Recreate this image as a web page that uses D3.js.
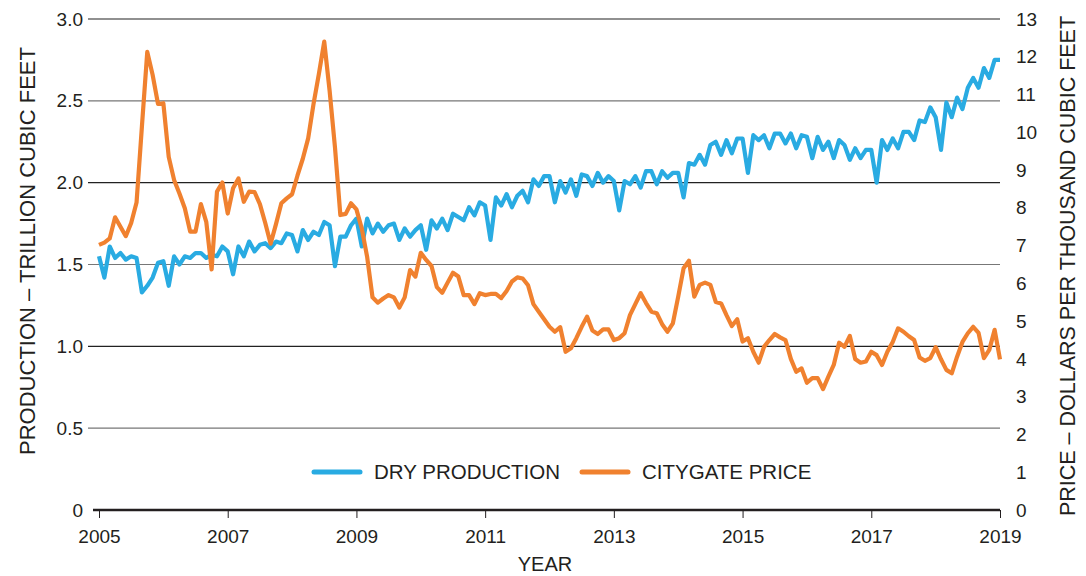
<!DOCTYPE html>
<html>
<head>
<meta charset="utf-8">
<script src="https://cdn.jsdelivr.net/npm/d3@7"></script>
<style>
  body { margin: 0; background: #fff; }
  svg { font-family: "Liberation Sans", Arial, sans-serif; }
</style>
</head>
<body>
<div id="chart"></div>
<script>
const width = 1086;
const height = 576;
const margin = { top: 19, right: 86, bottom: 66, left: 99 };

// Monthly series, Jan 2005 onward
const startYear = 2005;
const yearTicks = [2005, 2007, 2009, 2011, 2013, 2015, 2017, 2019];
const prodTicks = [0, 0.5, 1.0, 1.5, 2.0, 2.5, 3.0];
const priceTicks = [0, 1, 2, 3, 4, 5, 6, 7, 8, 9, 10, 11, 12, 13];

// Dry production, trillion cubic feet
const production = [
  1.55, 1.42, 1.61, 1.54, 1.57, 1.53, 1.55, 1.54, 1.33, 1.37, 1.42, 1.51,
  1.52, 1.37, 1.55, 1.50, 1.55, 1.54, 1.57, 1.57, 1.54, 1.56, 1.55, 1.61,
  1.58, 1.44, 1.61, 1.55, 1.64, 1.58, 1.62, 1.63, 1.60, 1.64, 1.63, 1.69,
  1.68, 1.58, 1.71, 1.65, 1.70, 1.68, 1.76, 1.74, 1.49, 1.67, 1.67, 1.74,
  1.78, 1.61, 1.78, 1.69, 1.75, 1.70, 1.74, 1.75, 1.65, 1.72, 1.67, 1.71,
  1.74, 1.59, 1.77, 1.72, 1.78, 1.71, 1.81, 1.79, 1.77, 1.85, 1.80, 1.88,
  1.86, 1.65, 1.91, 1.86, 1.93, 1.85, 1.92, 1.95, 1.88, 2.02, 1.98, 2.04,
  2.04, 1.88, 2.01, 1.94, 2.02, 1.92, 2.05, 2.04, 1.98, 2.06, 2.00, 2.04,
  2.01, 1.83, 2.01, 1.99, 2.04, 1.97, 2.07, 2.07, 1.99, 2.07, 2.03, 2.06,
  2.06, 1.91, 2.12, 2.11, 2.17, 2.11, 2.23, 2.25, 2.17, 2.26, 2.18, 2.27,
  2.27, 2.06, 2.29, 2.26, 2.29, 2.21, 2.30, 2.30, 2.24, 2.30, 2.21, 2.29,
  2.28, 2.15, 2.28, 2.20, 2.25, 2.15, 2.26, 2.23, 2.14, 2.21, 2.15, 2.20,
  2.20, 2.00, 2.26, 2.20, 2.27, 2.21, 2.31, 2.31, 2.26, 2.38, 2.37, 2.46,
  2.40, 2.20, 2.49, 2.40, 2.52, 2.45, 2.58, 2.64, 2.58, 2.70, 2.64, 2.75,
  2.75
];

// Citygate price, dollars per thousand cubic feet
const price = [
  7.02, 7.08, 7.19, 7.75, 7.50, 7.25, 7.60, 8.14, 10.15, 12.13, 11.52, 10.75,
  10.77, 9.35, 8.74, 8.38, 7.99, 7.37, 7.37, 8.10, 7.63, 6.37, 8.43, 8.67,
  7.85, 8.52, 8.78, 8.16, 8.43, 8.42, 8.10, 7.60, 7.05, 7.57, 8.12, 8.25,
  8.36, 8.85, 9.30, 9.84, 10.75, 11.55, 12.40, 11.10, 9.60, 7.81, 7.84, 8.12,
  7.96, 7.45, 6.70, 5.63, 5.49, 5.60, 5.69, 5.63, 5.36, 5.63, 6.35, 6.18,
  6.81, 6.62, 6.46, 5.90, 5.75, 6.02, 6.28, 6.18, 5.69, 5.69, 5.45, 5.74,
  5.69, 5.72, 5.72, 5.61, 5.80, 6.05, 6.16, 6.13, 5.95, 5.45, 5.25, 5.05,
  4.85, 4.72, 4.84, 4.19, 4.28, 4.55, 4.85, 5.12, 4.75, 4.66, 4.78, 4.78,
  4.50, 4.55, 4.68, 5.16, 5.45, 5.74, 5.48, 5.25, 5.21, 4.92, 4.72, 4.94,
  5.65, 6.40, 6.60, 5.65, 5.96, 6.02, 5.96, 5.51, 5.47, 5.16, 4.87, 5.05,
  4.46, 4.55, 4.19, 3.90, 4.32, 4.50, 4.66, 4.57, 4.50, 4.00, 3.66, 3.75,
  3.37, 3.49, 3.49, 3.20, 3.53, 3.84, 4.43, 4.32, 4.61, 4.00, 3.90, 3.93,
  4.19, 4.10, 3.84, 4.19, 4.45, 4.81, 4.72, 4.60, 4.50, 4.04, 3.95, 4.02,
  4.31, 3.99, 3.71, 3.62, 4.06, 4.45, 4.68, 4.85, 4.69, 4.02, 4.24, 4.77,
  3.99
];

const blue = "#29abe2";
const orange = "#f0812f";
const ink = "#231f20";

const svg = d3.select("#chart")
    .append("svg")
    .attr("width", width)
    .attr("height", height);

const x = d3.scaleLinear()
    .domain([2005, 2019])
    .range([margin.left, width - margin.right]);

const yL = d3.scaleLinear()
    .domain([0, 3])
    .range([height - margin.bottom, margin.top]);

const yR = d3.scaleLinear()
    .domain([0, 13])
    .range([height - margin.bottom, margin.top]);

const t = i => startYear + i / 12;

// ----- Gridlines -----
svg.append("g")
    .selectAll("line")
    .data(prodTicks.filter(d => d > 0))
    .join("line")
    .attr("x1", 88)
    .attr("x2", x(2019))
    .attr("y1", d => yL(d))
    .attr("y2", d => yL(d))
    .attr("stroke", (d, i) => i % 2 ? "#222" : "#777")
    .attr("stroke-width", 1.2);

// ----- Axes -----
const gL = svg.append("g")
    .attr("transform", `translate(83,0)`)
    .call(d3.axisLeft(yL).tickValues(prodTicks).tickSize(0).tickPadding(0)
        .tickFormat(d => d === 0 ? "0" : d3.format(".1f")(d)));
gL.select(".domain").remove();

const gR = svg.append("g")
    .attr("transform", `translate(${x(2019) + 16},0)`)
    .call(d3.axisRight(yR).tickValues(priceTicks).tickSize(0).tickPadding(0));
gR.select(".domain").remove();

const gX = svg.append("g")
    .attr("transform", `translate(0,${yL(0)})`)
    .call(d3.axisBottom(x).tickValues(yearTicks).tickSize(8).tickPadding(12)
        .tickFormat(d3.format("d")));
gX.select(".domain").remove();
gX.selectAll(".tick line").attr("stroke", ink).attr("stroke-width", 1);

svg.append("line")
    .attr("x1", 93).attr("x2", x(2019))
    .attr("y1", yL(0)).attr("y2", yL(0))
    .attr("stroke", ink).attr("stroke-width", 2.5);

svg.selectAll(".tick text")
    .attr("fill", ink)
    .style("font-size", "19px");

// Axis titles
svg.append("text")
    .attr("x", 545)
    .attr("y", 571)
    .attr("text-anchor", "middle")
    .attr("fill", ink)
    .style("font-size", "20px")
    .text("YEAR");

svg.append("text")
    .attr("transform", `translate(35,251) rotate(-90)`)
    .attr("text-anchor", "middle")
    .attr("fill", ink)
    .style("font-size", "22px")
    .text("PRODUCTION – TRILLION CUBIC FEET");

svg.append("text")
    .attr("transform", `translate(1075,266) rotate(-90)`)
    .attr("text-anchor", "middle")
    .attr("fill", ink)
    .style("font-size", "21.5px")
    .text("PRICE – DOLLARS PER THOUSAND CUBIC FEET");

// ----- Lines -----
const lineL = d3.line().x((d, i) => x(t(i))).y(d => yL(d));
const lineR = d3.line().x((d, i) => x(t(i))).y(d => yR(d));

svg.append("path")
    .datum(production)
    .attr("d", lineL)
    .attr("fill", "none")
    .attr("stroke", blue)
    .attr("stroke-width", 4.2)
    .attr("stroke-linejoin", "round");

svg.append("path")
    .datum(price)
    .attr("d", lineR)
    .attr("fill", "none")
    .attr("stroke", orange)
    .attr("stroke-width", 4.2)
    .attr("stroke-linejoin", "round");

// ----- Legend -----
const legend = [
  { name: "DRY PRODUCTION", color: blue, x: 314 },
  { name: "CITYGATE PRICE", color: orange, x: 582 }
];
const lg = svg.append("g").selectAll("g").data(legend).join("g")
    .attr("transform", d => `translate(${d.x},472)`);
lg.append("line")
    .attr("x1", 0).attr("x2", 46)
    .attr("stroke", d => d.color)
    .attr("stroke-width", 5)
    .attr("stroke-linecap", "round");
lg.append("text")
    .attr("x", 60)
    .attr("dy", "0.36em")
    .attr("fill", ink)
    .style("font-size", "20.5px")
    .text(d => d.name);
</script>
</body>
</html>
